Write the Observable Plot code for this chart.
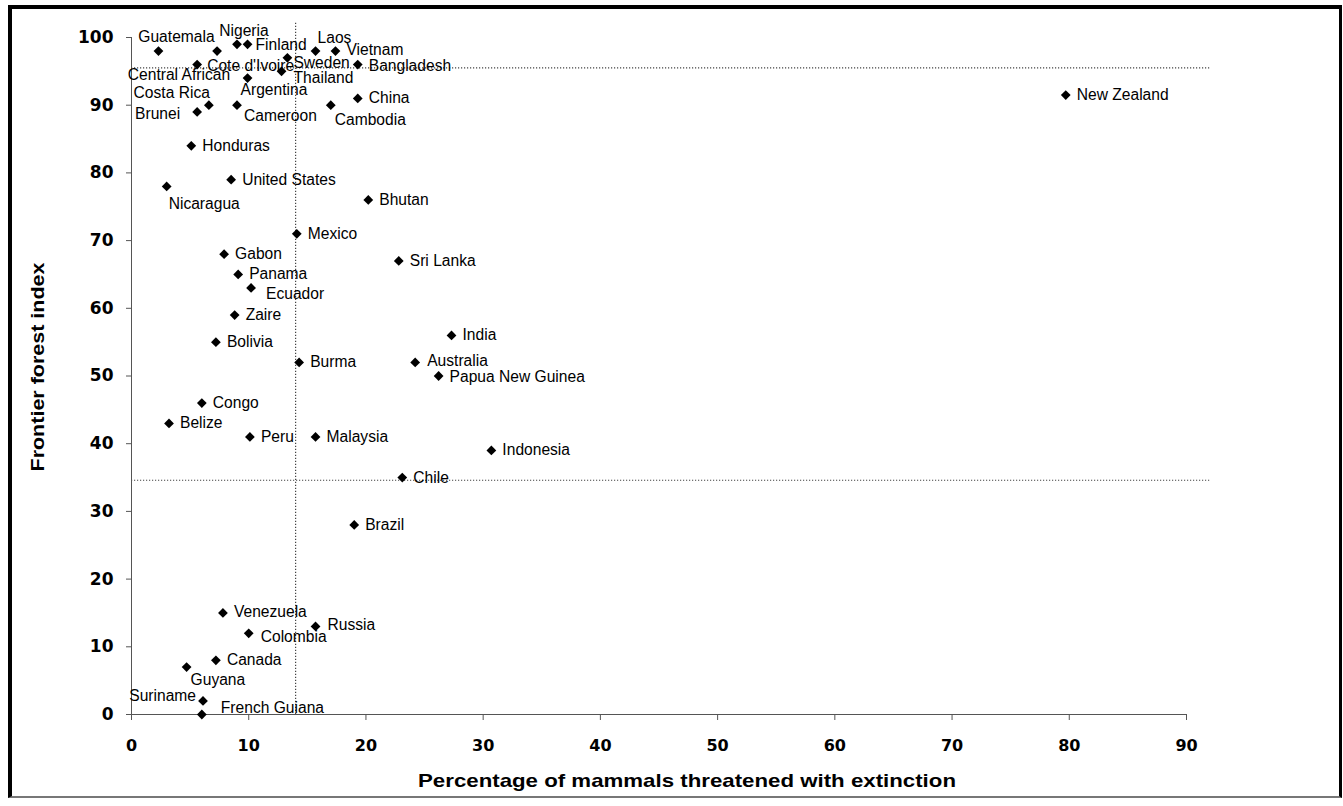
<!DOCTYPE html>
<html><head><meta charset="utf-8">
<script src="https://cdn.jsdelivr.net/npm/d3@7"></script>
<script src="https://cdn.jsdelivr.net/npm/@observablehq/plot@0.6"></script>
<style>
html,body{margin:0;padding:0;background:#fff;}
#chart{position:absolute;left:0;top:0;}
#frame{position:absolute;left:8px;top:5px;width:1334px;height:793px;box-sizing:border-box;border-left:4px solid #000;border-top:4px solid #000;border-right:3px solid #000;border-bottom:2px solid #777;pointer-events:none;}
</style></head><body><div id="chart"></div><div id="frame"></div>
<script>
// ---- data ----
const countries = ["Guatemala","Nigeria","Finland","Central African","Cote d'Ivoire","Sweden","Laos","Vietnam","Thailand","Bangladesh","Argentina","Costa Rica","Brunei","Cameroon","China","Cambodia","New Zealand","Honduras","United States","Nicaragua","Bhutan","Mexico","Gabon","Sri Lanka","Panama","Ecuador","Zaire","Bolivia","India","Burma","Australia","Papua New Guinea","Congo","Belize","Peru","Malaysia","Indonesia","Chile","Brazil","Venezuela","Russia","Colombia","Canada","Guyana","Suriname","French Guiana"];
const threatenedPct = [2.3, 9.0, 9.9, 7.3, 5.6, 13.3, 15.7, 17.4, 12.8, 19.3, 9.9, 6.6, 5.6, 9.0, 19.3, 17.0, 79.7, 5.1, 8.5, 3.0, 20.2, 14.1, 7.9, 22.8, 9.1, 10.2, 8.8, 7.2, 27.3, 14.3, 24.2, 26.2, 6.0, 3.2, 10.1, 15.7, 30.7, 23.1, 19.0, 7.8, 15.7, 10.0, 7.2, 4.7, 6.1, 6.0];
const frontierIndex = [98, 99, 99, 98, 96, 97, 98, 98, 95, 96, 94, 90, 89, 90, 91, 90, 91.5, 84, 79, 78, 76, 71, 68, 67, 65, 63, 59, 55, 56, 52, 52, 50, 46, 43, 41, 41, 39, 35, 28, 15, 13, 12, 8, 7, 2, 0];
const xTicks = [0,10,20,30,40,50,60,70,80,90];
const yTicks = [0,10,20,30,40,50,60,70,80,90,100];
const refX = 14;            // vertical dotted reference line
const refYs = [95.5, 34.6]; // horizontal dotted reference lines
const xTitle = "Percentage of mammals threatened with extinction";
const yTitle = "Frontier forest index";

// ---- label layout (pixel offsets from each point) ----
const labelLayout = {
  "Guatemala":[18,-14,"middle"], "Nigeria":[7,-13,"middle"], "Finland":[8,1,"start"],
  "Central African":[13,24,"end"], "Cote d'Ivoire":[10,1,"start"], "Sweden":[6,5,"start"],
  "Laos":[2,-13,"start"], "Vietnam":[11,-1,"start"], "Thailand":[12,7,"start"],
  "Bangladesh":[11,1,"start"], "Argentina":[-7,12,"start"], "Costa Rica":[1,-12,"end"],
  "Brunei":[-17,2,"end"], "Cameroon":[7,11,"start"], "China":[11,0,"start"],
  "Cambodia":[4,15,"start"], "Nicaragua":[2,18,"start"], "Ecuador":[15,6,"start"],
  "Venezuela":[11,-1,"start"], "Russia":[12,-1,"start"], "Colombia":[12,4,"start"],
  "Guyana":[4,13,"start"], "Suriname":[-7,-5,"end"], "French Guiana":[19,-7,"start"],
  "Australia":[12,-1,"start"], "Papua New Guinea":[11,0.5,"start"]
};

const data = countries.map((c,i)=>({country:c, x:threatenedPct[i], y:frontierIndex[i]}));

const labelMarks = data.map(d=>{
  const [dx,dy,anchor] = labelLayout[d.country] || [11,0,"start"];
  return Plot.text([d], {x:"x", y:"y", text:"country", dx, dy, textAnchor:anchor,
    fontSize:15.6, fill:"#000", fontFamily:"Liberation Sans, Arial, sans-serif"});
});

const lineColor = "#555";
const plot = Plot.plot({
  width:1343, height:806,
  marginLeft:131, marginRight:157, marginTop:37, marginBottom:92,
  x:{domain:[0,90]}, y:{domain:[0,100]},
  style:{background:"transparent", overflow:"visible"},
  marks:[
    Plot.ruleX([refX], {y1:0, y2:102.3, stroke:"#444", strokeWidth:1.2, strokeDasharray:"1.2,1.8"}),
    Plot.ruleY(refYs, {x1:0, x2:92, stroke:"#444", strokeWidth:1.2, strokeDasharray:"1.2,1.8"}),
    Plot.ruleX([0], {y1:0, y2:100, stroke:lineColor, strokeWidth:1}),
    Plot.ruleY([0], {x1:0, x2:90, stroke:lineColor, strokeWidth:1}),
    Plot.axisY({ticks:yTicks, tickSize:5, tickPadding:13, label:null, stroke:lineColor,
      fontSize:17, fontWeight:"bold", fontFamily:"DejaVu Sans, sans-serif", fill:"#000"}),
    Plot.axisX({ticks:xTicks, tickSize:6, tickPadding:19, label:null, stroke:lineColor,
      fontSize:16, fontWeight:"bold", fontFamily:"DejaVu Sans, sans-serif", fill:"#000"}),
    Plot.dot(data, {x:"x", y:"y", symbol:"diamond2", r:4.4, fill:"#000", stroke:"none"}),
    ...labelMarks
  ]
});
document.getElementById("chart").appendChild(plot);

const svg = d3.select(plot);
svg.append("text")
  .attr("x", 687).attr("y", 787)
  .attr("text-anchor","middle")
  .attr("font-family","Liberation Sans Narrow, Liberation Sans, Arial, sans-serif")
  .attr("font-weight","bold").attr("font-size",19)
  .attr("textLength",538).attr("lengthAdjust","spacingAndGlyphs")
  .attr("fill","#000")
  .text(xTitle);
svg.append("text")
  .attr("transform","translate(44,367) rotate(-90)")
  .attr("text-anchor","middle")
  .attr("font-family","Liberation Sans Narrow, Liberation Sans, Arial, sans-serif")
  .attr("font-weight","bold").attr("font-size",19)
  .attr("textLength",209).attr("lengthAdjust","spacingAndGlyphs")
  .attr("fill","#000")
  .text(yTitle);
</script>
</body></html>
